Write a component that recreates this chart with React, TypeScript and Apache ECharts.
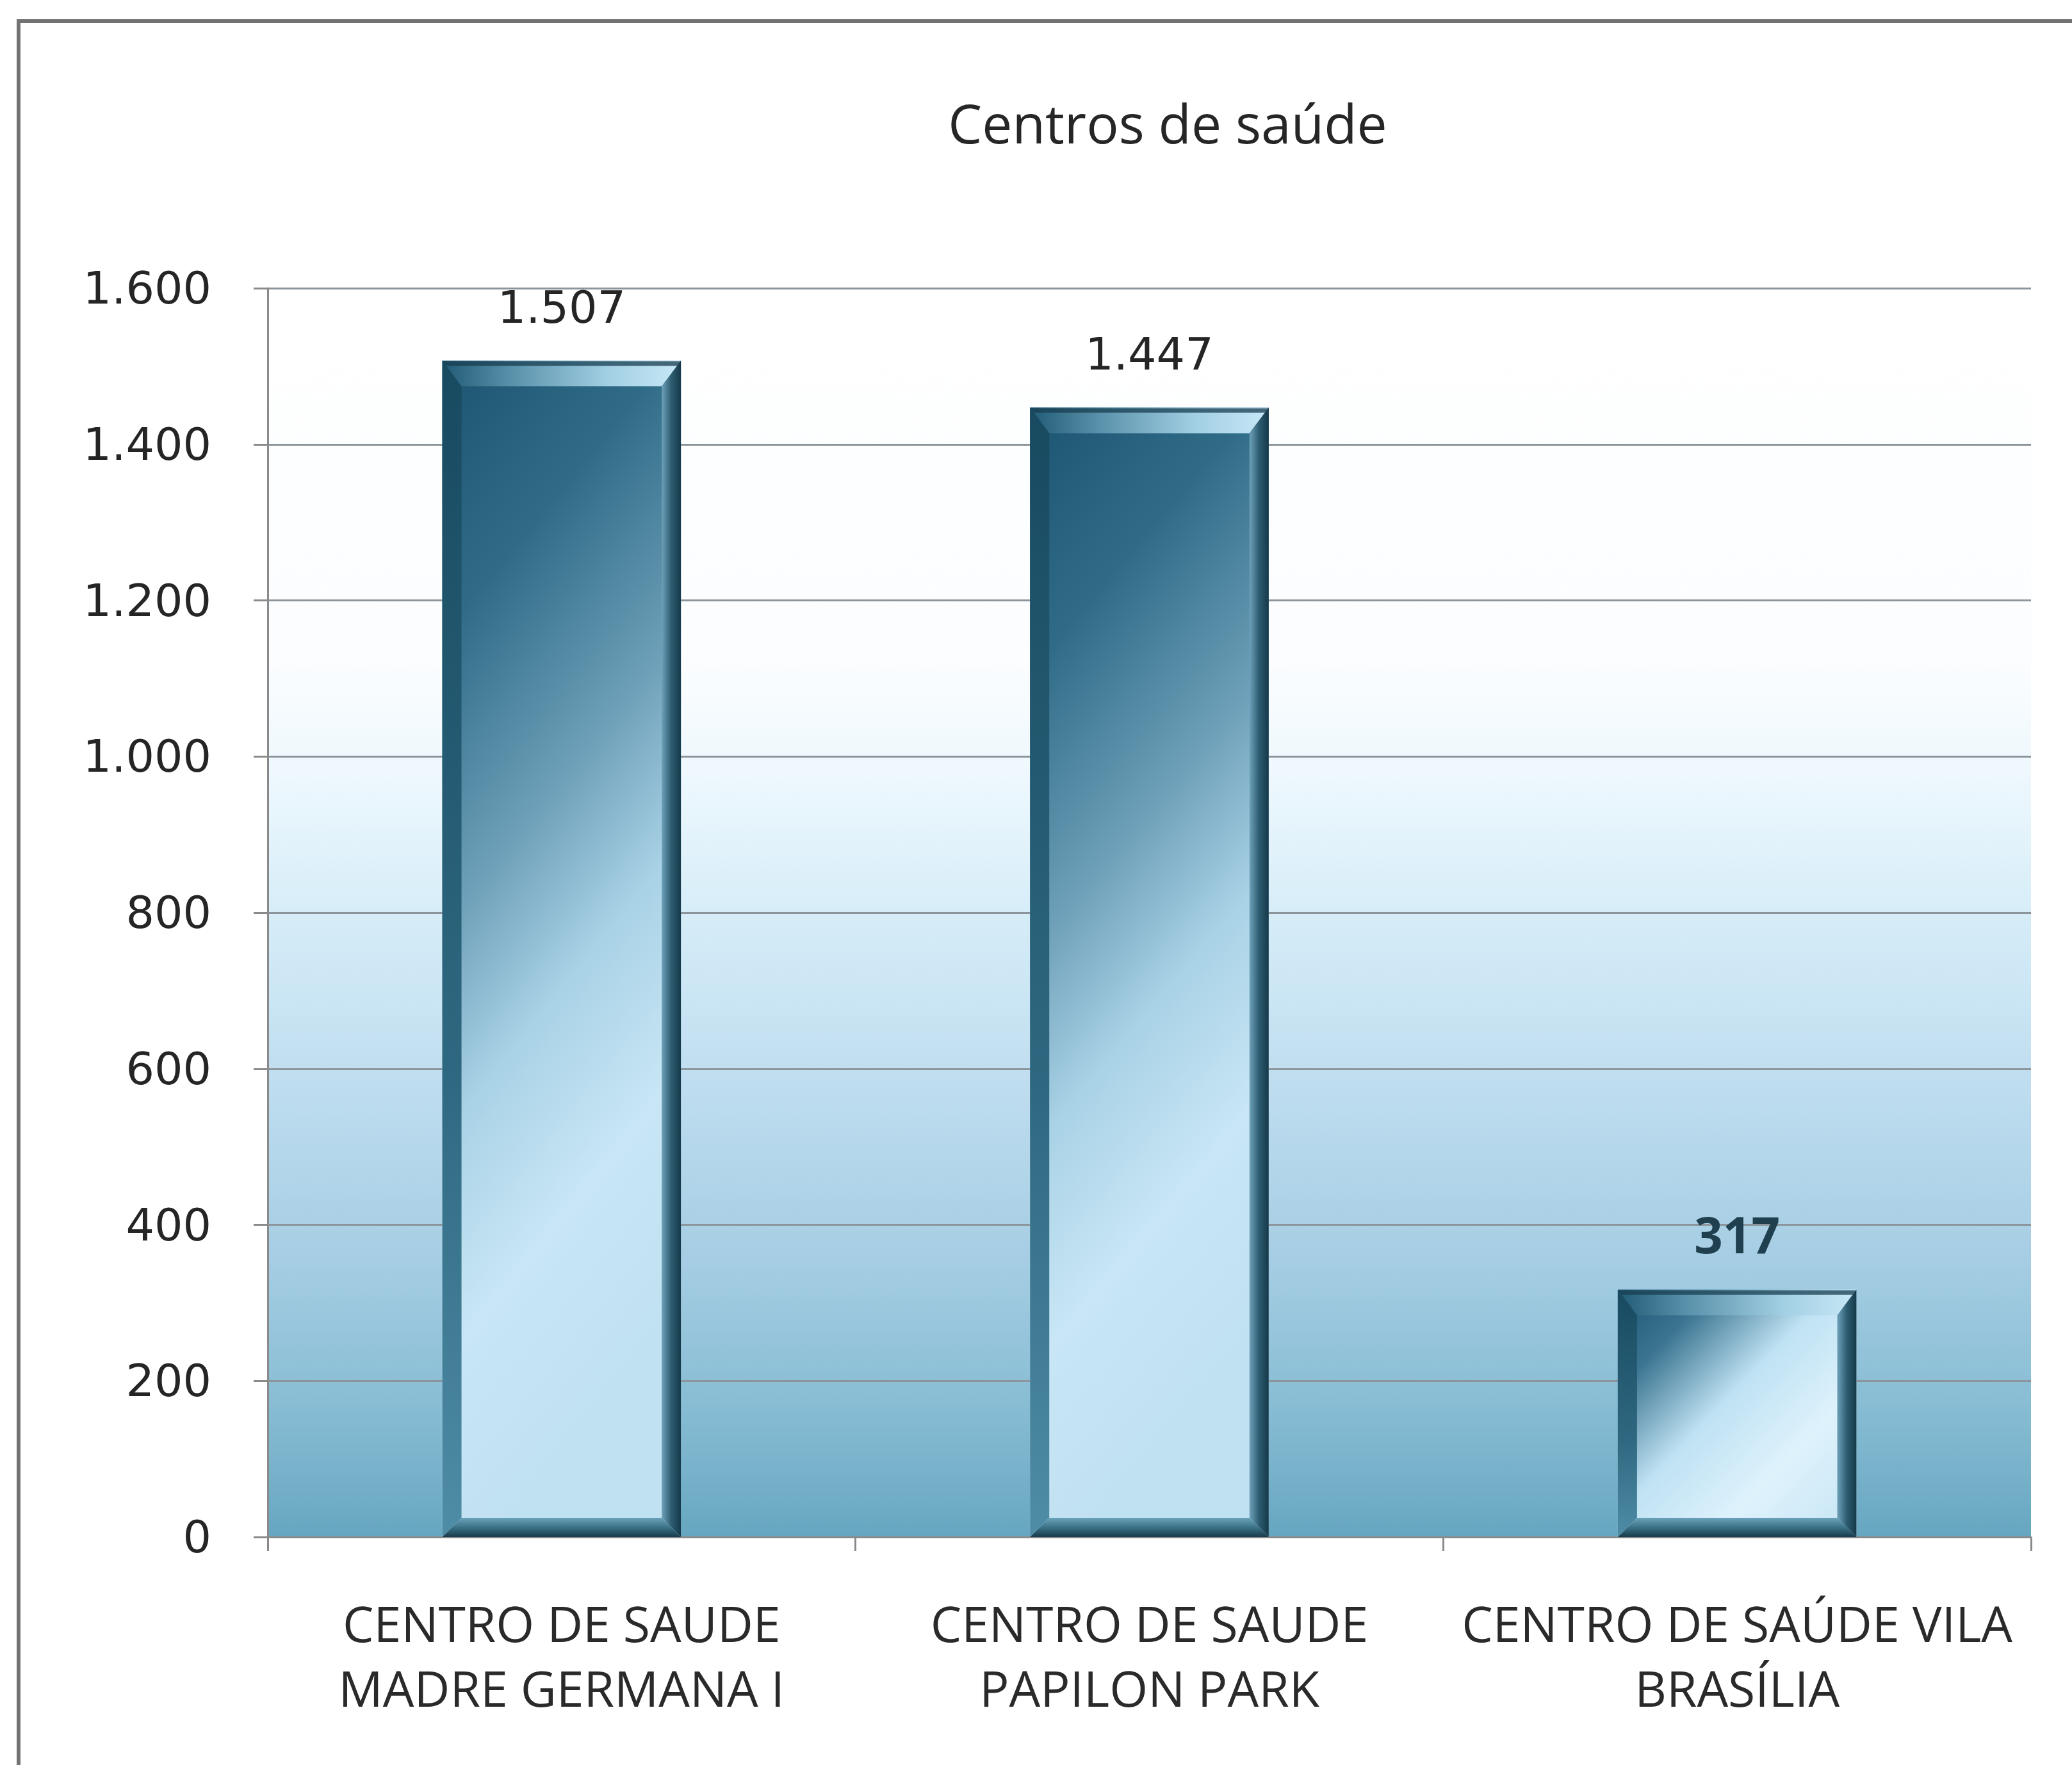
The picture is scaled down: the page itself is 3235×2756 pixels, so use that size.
import React, { useEffect, useRef } from "react";
import * as echarts from "echarts";

const title = "Centros de saúde";
const categories = [
  "CENTRO DE SAUDE\nMADRE GERMANA I",
  "CENTRO DE SAUDE\nPAPILON PARK",
  "CENTRO DE SAÚDE VILA\nBRASÍLIA",
];
const values = [1507, 1447, 317];
const yMin = 0;
const yMax = 1600;
const yInterval = 200;

const fmt = (v: number) =>
  v >= 1000 ? `${Math.floor(v / 1000)}.${String(v % 1000).padStart(3, "0")}` : String(v);

const BAR_RATIO = 0.406;

export default function App() {
  const ref = useRef<HTMLDivElement>(null);
  useEffect(() => {
    if (!ref.current) return;
    const chart = echarts.init(ref.current, null, { renderer: "svg" });
    const lg = (x: number, y: number, x2: number, y2: number, stops: [number, string][]) =>
      new echarts.graphic.LinearGradient(
        x, y, x2, y2,
        stops.map(([offset, color]) => ({ offset, color }))
      );

    const tallFill = lg(0, 0, 0.25, 1, [
      [0, "#1c5470"],
      [0.22, "#2f6b87"],
      [0.45, "#6d9fb8"],
      [0.62, "#a9d2e6"],
      [0.8, "#c8e6f5"],
      [1, "#c0e1f1"],
    ]);
    const shortFill = lg(0, 0, 1, 1, [
      [0, "#1c5470"],
      [0.2, "#3a7490"],
      [0.45, "#bfe2f3"],
      [0.7, "#def2fc"],
      [1, "#c5e4f3"],
    ]);

    const option: any = {
      animation: false,
      backgroundColor: "#ffffff",
      title: {
        text: title,
        left: 1818,
        top: 142,
        textAlign: "center",
        textStyle: {
          fontFamily: "Open Sans",
          fontWeight: "normal",
          fontSize: 84,
          lineHeight: 88,
          color: "#262626",
        },
      },
      graphic: [
        {
          type: "rect",
          shape: { x: 29, y: 33, width: 4000, height: 4000 },
          style: { fill: "none", stroke: "#727272", lineWidth: 6 },
          silent: true,
          z: 100,
        },
      ],
      grid: {
        left: 418,
        right: 64,
        top: 450,
        bottom: 356,
        show: true,
        borderWidth: 0,
        backgroundColor: lg(0, 0, 0, 1, [
          [0, "#ffffff"],
          [0.3, "#fbfdff"],
          [0.4, "#ecf7fd"],
          [0.5, "#d6edf8"],
          [0.63, "#c0def0"],
          [0.78, "#a5cde3"],
          [0.9, "#86bcd3"],
          [1, "#67a6c0"],
        ]),
      },
      xAxis: {
        type: "category",
        data: categories,
        boundaryGap: true,
        axisLine: { show: true, lineStyle: { color: "#8a8a8a", width: 3 } },
        axisTick: { show: true, length: 22, lineStyle: { color: "#8a8a8a", width: 3 } },
        axisLabel: {
          interval: 0,
          margin: 84,
          fontFamily: "Open Sans",
          fontSize: 77,
          lineHeight: 101,
          color: "#2a2a2a",
        },
      },
      yAxis: {
        type: "value",
        min: yMin,
        max: yMax,
        interval: yInterval,
        axisLine: { show: true, lineStyle: { color: "#8a8a8a", width: 3 } },
        axisTick: { show: true, length: 22, lineStyle: { color: "#8a8a8a", width: 3 } },
        splitLine: { show: true, lineStyle: { color: "#8c959b", width: 3 } },
        axisLabel: {
          margin: 88,
          fontFamily: "DejaVu Sans",
          fontSize: 70,
          color: "#252525",
          formatter: (v: number) => fmt(v),
        },
      },
      series: [
        {
          type: "bar",
          barWidth: `${BAR_RATIO * 100}%`,
          data: values.map((v, i) => ({
            value: v,
            itemStyle: { color: i === 2 ? shortFill : tallFill },
            label:
              i === 2
                ? {
                    fontFamily: "Open Sans",
                    fontWeight: "bold",
                    fontSize: 78,
                    lineHeight: 78,
                    color: "#20404f",
                    distance: 48,
                  }
                : undefined,
          })),
          label: {
            show: true,
            position: "top",
            distance: 48,
            fontFamily: "DejaVu Sans",
            fontSize: 70,
            lineHeight: 70,
            color: "#252525",
            formatter: (p: any) => fmt(p.value),
          },
          z: 2,
        },
        {
          type: "custom",
          silent: true,
          z: 3,
          data: values.map((v, i) => [i, v]),
          encode: { x: 0, y: 1 },
          renderItem: (params: any, api: any) => {
            const i = api.value(0);
            const v = api.value(1);
            const top = api.coord([i, v]);
            const bot = api.coord([i, 0]);
            const w = api.size([1, 0])[0] * BAR_RATIO;
            const x0 = top[0] - w / 2;
            const x1 = top[0] + w / 2;
            const y0 = top[1];
            const y1 = bot[1];
            const b = 40;
            const s = 30;
            return {
              type: "group",
              children: [
                {
                  type: "polygon",
                  shape: { points: [[x0, y0], [x1, y0], [x1 - s, y0 + b], [x0 + s, y0 + b]] },
                  style: {
                    fill: lg(0, 0, 1, 0, [
                      [0, "#215a74"],
                      [0.3, "#5b93ac"],
                      [0.7, "#a3d0e4"],
                      [1, "#c8e8f6"],
                    ]),
                  },
                },
                {
                  type: "polygon",
                  shape: { points: [[x0, y0 + 1], [x1, y0 + 1], [x1 - 4, y0 + 8], [x0 + 4, y0 + 8]] },
                  style: { fill: "rgba(24,62,80,0.75)" },
                },
                {
                  type: "polygon",
                  shape: { points: [[x1, y0], [x1, y1], [x1 - s, y1 - s], [x1 - s, y0 + b]] },
                  style: {
                    fill: lg(0, 0, 1, 0, [
                      [0, "#6ea2ba"],
                      [0.5, "#2d5c70"],
                      [1, "#15394a"],
                    ]),
                  },
                },
                {
                  type: "polygon",
                  shape: { points: [[x0, y0], [x0 + s, y0 + b], [x0 + s, y1 - s], [x0, y1]] },
                  style: {
                    fill: lg(0, 0, 0, 1, [
                      [0, "#184a60"],
                      [0.6, "#2e6880"],
                      [1, "#4f8ca6"],
                    ]),
                  },
                },
                {
                  type: "polygon",
                  shape: { points: [[x0, y1], [x1, y1], [x1 - s, y1 - s], [x0 + s, y1 - s]] },
                  style: {
                    fill: lg(0, 0, 0, 1, [
                      [0, "#6aa3bb"],
                      [0.5, "#3b7288"],
                      [1, "#173b4a"],
                    ]),
                  },
                },
              ],
            };
          },
        },
      ],
    };
    chart.setOption(option);
    return () => chart.dispose();
  }, []);
  return (
    <div
      ref={ref}
      style={{ position: "absolute", left: 0, top: 0, width: 3235, height: 2756 }}
    />
  );
}
